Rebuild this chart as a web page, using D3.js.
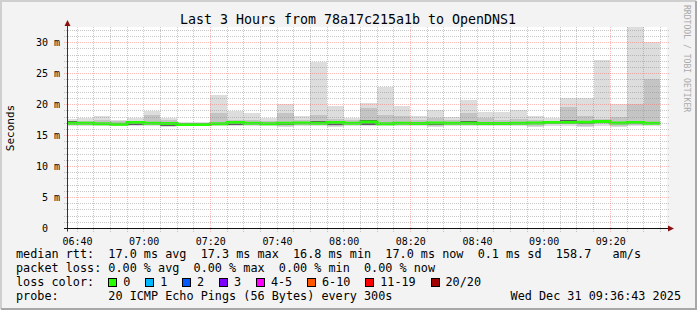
<!DOCTYPE html>
<html>
<head>
<meta charset="utf-8">
<script src="https://cdn.jsdelivr.net/npm/d3@7/dist/d3.min.js"></script>
<style>
  body { margin: 0; background: #f3f3f3; }
  svg { display: block; }
  text { font-family: "DejaVu Sans Mono", monospace; }
  .pre { white-space: pre; }
</style>
</head>
<body>
<div id="chart"></div>
<script>
/*
** Data: one 5 minute bin per entry, rtt in ms
*/
var binStarts = ["06:35", "06:40", "06:45", "06:50", "06:55", "07:00", "07:05", "07:10", "07:15",
                 "07:20", "07:25", "07:30", "07:35", "07:40", "07:45", "07:50", "07:55", "08:00",
                 "08:05", "08:10", "08:15", "08:20", "08:25", "08:30", "08:35", "08:40", "08:45",
                 "08:50", "08:55", "09:00", "09:05", "09:10", "09:15", "09:20", "09:25", "09:30"];
var maxRtt    = [17.7, 17.8, 18.2, 17.5, 17.9, 19.0, 17.9, 17.25, 17.25, 21.6, 18.9, 18.7, 17.8,
                 20.1, 18.2, 26.85, 19.8, 17.9, 20.2, 22.9, 19.8, 18.1, 19.1, 18.0, 20.8, 18.8,
                 18.75, 19.1, 18.1, 17.8, 21.0, 21.0, 27.2, 20.1, 32.8, 30.1];
var upperRtt  = [17.4, 17.3, 17.6, 17.3, 17.4, 18.3, 17.5, 17.1, 17.1, 18.6, 17.6, 17.6, 17.4,
                 18.7, 17.6, 18.3, 17.7, 17.5, 19.4, 18.3, 18.2, 17.6, 17.8, 17.5, 18.6, 17.8,
                 17.6, 17.7, 17.5, 17.4, 19.6, 18.1, 17.7, 18.0, 20.1, 24.1];
var coreHi    = [17.3, 17.2, 17.1, 17.05, 17.3, 17.2, 17.15, 17.0, 17.0, 17.1, 17.3, 17.2, 17.1,
                 17.2, 17.25, 17.4, 17.3, 17.2, 17.6, 17.1, 17.2, 17.15, 17.25, 17.2, 17.3, 17.15,
                 17.15, 17.2, 17.25, 17.3, 17.45, 17.35, 17.5, 17.25, 17.3, 17.2];
var medianRtt = [17.0, 17.0, 16.9, 16.85, 17.1, 17.0, 16.95, 16.8, 16.8, 16.9, 17.1, 17.0, 16.9,
                 17.0, 17.05, 17.0, 17.1, 17.0, 17.2, 16.9, 17.0, 16.95, 17.05, 17.0, 17.0, 16.95,
                 16.95, 17.0, 17.05, 17.1, 17.1, 17.15, 17.3, 17.05, 17.1, 17.0];
var coreLo    = [16.8, 16.8, 16.7, 16.65, 16.7, 16.8, 16.6, 16.6, 16.6, 16.7, 16.7, 16.8, 16.7,
                 16.65, 16.85, 16.8, 16.65, 16.8, 16.7, 16.7, 16.8, 16.75, 16.7, 16.8, 16.8, 16.75,
                 16.75, 16.8, 16.85, 16.9, 16.9, 16.95, 17.1, 16.85, 16.9, 16.8];
var lowerRtt  = [16.7, 16.75, 16.65, 16.6, 16.75, 16.7, 16.6, 16.6, 16.6, 16.7, 16.7, 16.75, 16.7,
                 16.6, 16.75, 16.75, 16.6, 16.7, 16.8, 16.7, 16.75, 16.7, 16.6, 16.75, 16.7, 16.7,
                 16.65, 16.75, 16.6, 16.8, 16.8, 16.6, 16.8, 16.6, 16.75, 16.8];
var minRtt    = [16.6, 16.6, 16.5, 16.5, 16.6, 16.5, 16.4, 16.5, 16.5, 16.6, 16.5, 16.6, 16.6,
                 16.4, 16.6, 16.6, 16.4, 16.6, 16.6, 16.6, 16.6, 16.6, 16.4, 16.6, 16.5, 16.5,
                 16.5, 16.6, 16.4, 16.6, 16.6, 16.4, 16.6, 16.4, 16.6, 16.6];

var yTicks      = [0, 5, 10, 15, 20, 25, 30];
var lossLabels  = ["0", "1", "2", "3", "4-5", "6-10", "11-19", "20/20"];
var lossColors  = ["#26ff00", "#00b8ff", "#0059ff", "#7e00ff", "#ff00ff", "#ff5500", "#ff0000", "#a10000"];
var titleText   = "Last 3 Hours from 78a17c215a1b to OpenDNS1";
var legendRows  = [
    "median rtt:  17.0 ms avg  17.3 ms max  16.8 ms min  17.0 ms now  0.1 ms sd  158.7   am/s",
    "packet loss: 0.00 % avg  0.00 % max  0.00 % min  0.00 % now",
    "loss color:",
    "probe:       20 ICMP Echo Pings (56 Bytes) every 300s"
];
var stampText   = "Wed Dec 31 09:36:43 2025";

/*
** Setup
*/
var width = 697
  , height = 310
  , plot = {left: 67, right: 667, top: 27, bottom: 228.5}
  , day = function(h, m) { return new Date(2025, 11, 31, h, m); }
  , parse = function(s) { var p = s.split(":"); return day(+p[0], +p[1]); }
  , x = d3.scaleTime()
        .domain([day(6, 37), day(9, 37)])
        .range([plot.left, plot.right])
  , y = d3.scaleLinear()
        .domain([0, 32.3])
        .range([228.5, 28.5])
  , crisp = function(v) { return Math.floor(v) + 0.5; }
  , minorColor = "rgba(143,143,143,0.5)"
  , majorColor = "rgba(255,90,90,0.42)"
;

var bins = binStarts.map(function(s, i) {
    var t0 = parse(s);
    return {
        t0: t0, t1: d3.timeMinute.offset(t0, 5),
        max: maxRtt[i], upper: upperRtt[i], coreHi: coreHi[i],
        median: medianRtt[i], coreLo: coreLo[i], lower: lowerRtt[i], min: minRtt[i]
    };
});

var svg = d3.select("#chart")
  .append("svg")
    .attr("width", width)
    .attr("height", height)
;

// background + 3d frame
svg.append("rect").attr("width", width).attr("height", height).attr("fill", "#f3f3f3");
svg.append("path").attr("d", "M1,309V1H696").attr("fill", "none").attr("stroke", "#cfcfcf").attr("stroke-width", 2);
svg.append("path").attr("d", "M1,309H696V1").attr("fill", "none").attr("stroke", "#a8a8a8").attr("stroke-width", 2);

svg.append("defs").append("clipPath").attr("id", "clip")
  .append("rect")
    .attr("x", plot.left).attr("y", plot.top)
    .attr("width", plot.right - plot.left).attr("height", plot.bottom - plot.top);

svg.append("rect")
    .attr("x", plot.left).attr("y", plot.top)
    .attr("width", plot.right - plot.left).attr("height", plot.bottom - plot.top)
    .attr("fill", "#ffffff");

/*
** Smoke
*/
var canvas = svg.append("g").attr("clip-path", "url(#clip)");

var bands = [
    {lo: "min",    hi: "max",    color: "#dddddd"},
    {lo: "lower",  hi: "upper",  color: "#c4c4c4"},
    {lo: "coreLo", hi: "coreHi", color: "#5c5c5c"}
];
bands.forEach(function(b) {
    canvas.selectAll(null)
        .data(bins)
      .enter()
      .append("rect")
        .attr("x", function(d) { return x(d.t0); })
        .attr("width", function(d) { return x(d.t1) - x(d.t0); })
        .attr("y", function(d) { return y(d[b.hi]); })
        .attr("height", function(d) { return y(d[b.lo]) - y(d[b.hi]); })
        .attr("fill", b.color)
        .attr("shape-rendering", "crispEdges")
    ;
});

/*
** Grid
*/
var grid = svg.append("g")
    .attr("fill", "none")
    .attr("stroke-dasharray", "1,1")
    .attr("shape-rendering", "crispEdges");
var minorT = x.ticks(d3.timeMinute.every(5)).filter(function(t) { return t.getMinutes() % 20; })
  , majorT = x.ticks(d3.timeMinute.every(20))
  , minorY = d3.range(1, 33).filter(function(v) { return v % 5; })
;
grid.selectAll(".gx").data(minorT).enter().append("line")
    .attr("x1", function(d) { return crisp(x(d)); }).attr("x2", function(d) { return crisp(x(d)); })
    .attr("y1", plot.top).attr("y2", plot.bottom + 3)
    .attr("stroke", minorColor);
grid.selectAll(".gy").data(minorY).enter().append("line")
    .attr("y1", function(d) { return crisp(y(d)); }).attr("y2", function(d) { return crisp(y(d)); })
    .attr("x1", plot.left - 3).attr("x2", plot.right + 2)
    .attr("stroke", minorColor);
grid.selectAll(".mx").data(majorT).enter().append("line")
    .attr("x1", function(d) { return crisp(x(d)); }).attr("x2", function(d) { return crisp(x(d)); })
    .attr("y1", plot.top).attr("y2", plot.bottom + 3)
    .attr("stroke", majorColor);
grid.selectAll(".my").data(yTicks.slice(1)).enter().append("line")
    .attr("y1", function(d) { return crisp(y(d)); }).attr("y2", function(d) { return crisp(y(d)); })
    .attr("x1", plot.left - 3).attr("x2", plot.right + 2)
    .attr("stroke", majorColor);

/*
** Median line
*/
var medPts = bins.map(function(d) { return [x(d.t0), y(d.median)]; });
medPts.push([x(bins[bins.length - 1].t1), y(bins[bins.length - 1].median)]);
canvas.append("path")
    .attr("d", d3.line().curve(d3.curveStepAfter)(medPts))
    .attr("fill", "none")
    .attr("stroke", lossColors[0])
    .attr("stroke-width", 3)
;

/*
** Axes
*/
var xAxis = d3.axisBottom(x)
    .ticks(d3.timeMinute.every(20))
    .tickFormat(d3.timeFormat("%H:%M"))
    .tickSize(0)
    .tickPadding(9);
svg.append("g")
    .attr("transform", "translate(0," + plot.bottom + ")")
    .call(xAxis)
    .call(function(g) { g.select(".domain").remove(); })
    .selectAll("text")
      .attr("font-family", "DejaVu Sans Mono")
      .attr("font-size", 10)
      .attr("fill", "#000");

var yAxis = d3.axisLeft(y)
    .tickValues(yTicks)
    .tickFormat(function(d) { return d ? d + " m" : "0"; })
    .tickSize(0)
    .tickPadding(7);
svg.append("g")
    .attr("transform", "translate(" + plot.left + ",0)")
    .call(yAxis)
    .call(function(g) { g.select(".domain").remove(); })
    .call(function(g) {
        g.selectAll(".tick text")
            .attr("font-family", "DejaVu Sans Mono")
            .attr("font-size", 10)
            .attr("fill", "#000")
            .attr("x", function(d) { return d ? -7 : -19; });
    });

// axis lines with arrows
svg.append("line")
    .attr("x1", plot.left + 0.5).attr("x2", plot.left + 0.5)
    .attr("y1", plot.bottom + 3).attr("y2", 24)
    .attr("stroke", "#333");
svg.append("line")
    .attr("x1", plot.left - 3).attr("x2", 670)
    .attr("y1", crisp(plot.bottom)).attr("y2", crisp(plot.bottom))
    .attr("stroke", "#111");
svg.append("path")
    .attr("d", "M" + (plot.left + 0.5) + ",20L" + (plot.left + 3.5) + ",26L" + (plot.left - 2.5) + ",26Z")
    .attr("fill", "#8b1010");
svg.append("path")
    .attr("d", "M674," + crisp(plot.bottom) + "L668," + (crisp(plot.bottom) - 3) + "L668," + (crisp(plot.bottom) + 3) + "Z")
    .attr("fill", "#8b1010");

/*
** Texts
*/
svg.append("text")
    .attr("x", 348).attr("y", 23.5)
    .attr("text-anchor", "middle")
    .attr("font-size", 13.3)
    .text(titleText);

svg.append("text")
    .attr("transform", "translate(14,128) rotate(-90)")
    .attr("text-anchor", "middle")
    .attr("font-size", 11)
    .text("Seconds");

svg.append("text")
    .attr("transform", "translate(684,5) rotate(90)")
    .attr("font-size", 8.1)
    .attr("fill", "#aaaaaa")
    .text("RRDTOOL / TOBI OETIKER");

svg.selectAll(".legend")
    .data(legendRows)
  .enter()
  .append("text")
    .attr("class", "pre")
    .attr("x", 16)
    .attr("y", function(d, i) { return 258 + i * 14; })
    .attr("font-size", 11.8)
    .text(function(d) { return d; });

svg.append("text")
    .attr("x", 681).attr("y", 300)
    .attr("text-anchor", "end")
    .attr("font-size", 11.8)
    .text(stampText);

// loss colour swatches
var charW = 7.1, bx = 108.3;
lossLabels.forEach(function(lbl, i) {
    svg.append("rect")
        .attr("x", Math.round(bx) + 0.5).attr("y", 278.5)
        .attr("width", 8).attr("height", 8)
        .attr("fill", lossColors[i])
        .attr("stroke", "#000");
    svg.append("text")
        .attr("x", bx + 15).attr("y", 286)
        .attr("font-size", 11.8)
        .text(lbl);
    bx += 15 + lbl.length * charW + 14.8;
});
</script>
</body>
</html>
